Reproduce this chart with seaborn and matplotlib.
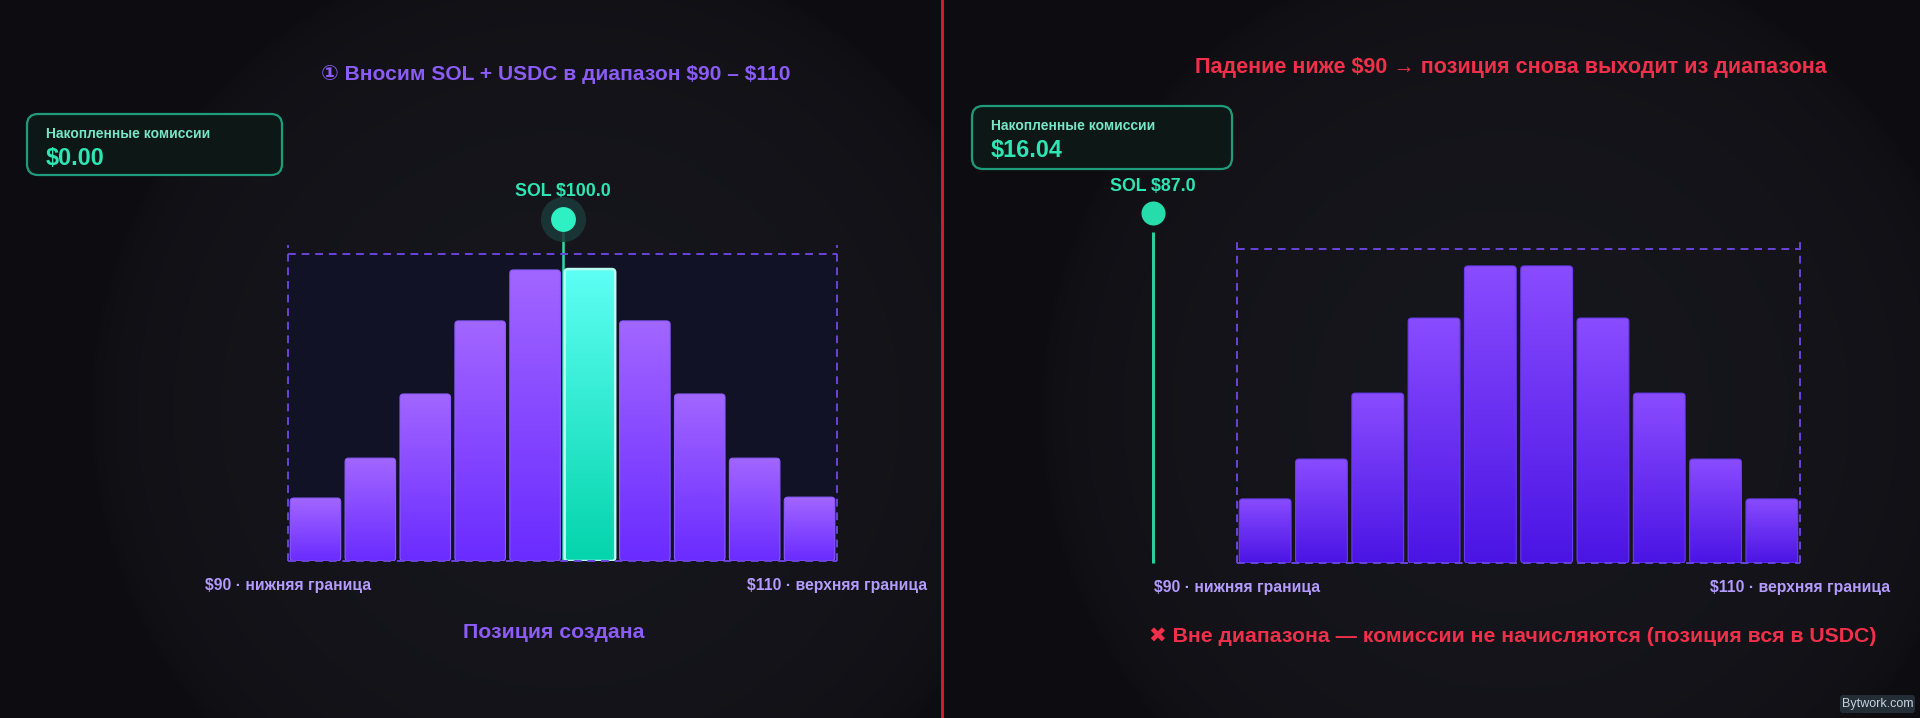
import numpy as np
import pandas as pd
import matplotlib
matplotlib.use("Agg")
import matplotlib.pyplot as plt
import seaborn as sns
from matplotlib.patches import FancyBboxPatch
from matplotlib.lines import Line2D
from matplotlib.colors import LinearSegmentedColormap
from matplotlib.transforms import IdentityTransform

# ---------------- data ----------------
bin_centers = [91, 93, 95, 97, 99, 101, 103, 105, 107, 109]
liquidity_left = [20.5, 33.5, 54.4, 78.2, 94.8, 95.1, 78.2, 54.4, 33.5, 20.8]
liquidity_right = [20.4, 33.1, 54.1, 78.0, 94.6, 94.6, 78.0, 54.1, 33.1, 20.4]
range_low, range_high = 90, 110
price_left, price_right = 100.0, 87.0
active_bin_left = 101
fees_left, fees_right = "$0.00", "$16.04"
fee_label = "Накопленные комиссии"
low_label = "$90 · нижняя граница"
high_label = "$110 · верхняя граница"
title_left = "① Вносим SOL + USDC в диапазон $90 – $110"
title_right = "Падение ниже $90 → позиция снова выходит из диапазона"
caption_left = "Позиция создана"
caption_right = "✖ Вне диапазона — комиссии не начисляются (позиция вся в USDC)"
watermark = "Bytwork.com"

# ---------------- style ----------------
W, H = 1920, 718
sns.set_theme(style="dark")
FONTS = ['Liberation Sans', 'DejaVu Sans', 'Noto Sans CJK SC']
plt.rcParams['font.family'] = FONTS
plt.rcParams['text.parse_math'] = False

BG = '#0e0e12'
PURPLE_TXT = '#8b5cf6'
LAV = '#b49cff'
RED = '#f0304a'
TEAL = '#2ee6b4'
DASH = '#6a44dc'

fig = plt.figure(figsize=(W / 100, H / 100), dpi=100, facecolor=BG)

# background glow
bg = fig.add_axes([0, 0, 1, 1], zorder=-10)
bg.axis('off')
yy, xx = np.mgrid[0:H, 0:W]
base = np.array([13, 13, 17]) / 255
glow = np.array([23, 23, 30]) / 255
img = np.ones((H, W, 3)) * base
for cx, cy, R, xmin, xmax in [(560, 410, 470, 0, 942), (1510, 410, 470, 942, W)]:
    d = np.hypot(xx - cx, yy - cy) / R
    t = np.clip(1 - d, 0, 1) ** 0.4
    t[:, :xmin] = 0
    t[:, xmax:] = 0
    img = img + (glow - base) * t[..., None]
bg.imshow(img, extent=[0, W, H, 0], aspect='auto', interpolation='bilinear')
bg.set_xlim(0, W)
bg.set_ylim(H, 0)

# divider
fig.add_artist(Line2D([942 / W, 942 / W], [0, 1], transform=fig.transFigure,
                      color='#cc1f1f', lw=2.2))


def px_axes(x0, x1, ytop, ybot):
    return fig.add_axes([x0 / W, 1 - ybot / H, (x1 - x0) / W, (ybot - ytop) / H])


def paint_bars(ax, top_c, bot_c, edge_c, special=None, special_cols=None):
    fig.canvas.draw()
    bbox = ax.get_window_extent()
    pxx = bbox.width / (range_high - range_low)
    pxy = bbox.height / 100.0
    r = 3.5 / pxx
    bars = list(ax.patches)
    for bar in bars:
        x0, w, h = bar.get_x(), bar.get_width(), bar.get_height()
        xc = x0 + w / 2
        bar.set_visible(False)
        if special is not None and abs(xc - special) < 0.5:
            tc, bc, ec, lw = special_cols
        else:
            tc, bc, ec, lw = top_c, bot_c, edge_c, 0.8
        patch = FancyBboxPatch((x0, 0), w, h,
                               boxstyle=f"round,pad=0,rounding_size={r}",
                               mutation_aspect=pxx / pxy,
                               fc='none', ec=ec, lw=lw, zorder=4)
        ax.add_patch(patch)
        cm = LinearSegmentedColormap.from_list('g', [bc, tc])
        grad = np.linspace(0, 1, 256).reshape(-1, 1)
        im = ax.imshow(grad, extent=[x0, x0 + w, 0, h], origin='lower', cmap=cm,
                       aspect='auto', zorder=3, interpolation='bicubic')
        im.set_clip_path(patch)
    ax.set_xlim(range_low, range_high)
    ax.set_ylim(0, 100)


def setup_panel(ax, heights, face):
    sns.barplot(x=bin_centers, y=heights, native_scale=True, width=0.92,
                color='#7c4dff', errorbar=None, ax=ax, saturation=1)
    ax.set_xlim(range_low, range_high)
    ax.set_ylim(0, 100)
    ax.set_facecolor(face)
    for s in ax.spines.values():
        s.set_visible(False)
    ax.set_xticks([])
    ax.set_yticks([])
    ax.set_xlabel('')
    ax.set_ylabel('')
    ax.grid(False)
    ax.vlines([range_low, range_high], 0, 102.8, colors=DASH, lw=1.4,
              linestyles=(0, (4, 3)), clip_on=False, zorder=5)
    ax.hlines([0, 100], range_low, range_high, colors=DASH, lw=1.4,
              linestyles=(0, (4, 3)), clip_on=False, zorder=5)
    ax.text(range_low, -7.9, low_label, ha='center', va='center', color=LAV,
            fontsize=11.3, fontweight='bold', clip_on=False)
    ax.text(range_high, -7.9, high_label, ha='center', va='center', color=LAV,
            fontsize=11.3, fontweight='bold', clip_on=False)


# ---------------- left panel ----------------
axL = px_axes(288, 837, 254, 561)
setup_panel(axL, liquidity_left, '#121226')
axL.plot([price_left, price_left], [0, 111.4], color='#2fd9aa', lw=1.8, zorder=2,
         clip_on=False, solid_capstyle='butt')
axL.scatter([price_left], [111.4], s=1050, color='#1c3a3a', alpha=0.85, zorder=6,
            clip_on=False, linewidths=0)
axL.scatter([price_left], [111.4], s=320, color='#2ff0c2', zorder=7, clip_on=False,
            linewidths=0)
axL.text(price_left, 120.5, f"SOL ${price_left:.1f}", ha='center', va='center',
         color=TEAL, fontsize=12.8, fontweight='bold', clip_on=False)

# ---------------- right panel ----------------
axR = px_axes(1237, 1800, 249, 563)
setup_panel(axR, liquidity_right, 'none')
axR.plot([price_right, price_right], [0, 105.3], color='#2bcf9f', lw=2.2, zorder=2,
         clip_on=False, solid_capstyle='butt')
axR.scatter([price_right], [111.5], s=300, color='#25dcaa', zorder=7, clip_on=False,
            linewidths=0)
axR.text(price_right, 119.8, f"SOL ${price_right:.1f}", ha='center', va='center',
         color=TEAL, fontsize=12.8, fontweight='bold', clip_on=False)

paint_bars(axL, '#a266ff', '#6a2bff', '#8a5cff', special=active_bin_left,
           special_cols=('#5efff4', '#03d4ab', '#b6fff0', 1.8))
paint_bars(axR, '#8a4cff', '#4a14e4', '#6a3cf0')

# ---------------- titles / captions ----------------
fig.text(556 / W, 1 - 75 / H, title_left, ha='center', va='center', color=PURPLE_TXT,
         fontsize=15.1, fontweight='bold')
fig.text(1511 / W, 1 - 67 / H, title_right, ha='center', va='center', color=RED,
         fontsize=15.5, fontweight='bold')
fig.text(554 / W, 1 - 633 / H, caption_left, ha='center', va='center', color=PURPLE_TXT,
         fontsize=15.3, fontweight='bold')
fig.text(1513 / W, 1 - 637 / H, caption_right, ha='center', va='center', color=RED,
         fontsize=15.3, fontweight='bold')


def fee_box(x0, y0, x1, y1, value):
    p = FancyBboxPatch((x0, H - y1), x1 - x0, y1 - y0,
                       boxstyle="round,pad=0,rounding_size=11",
                       transform=IdentityTransform(), fc='#0c1716', ec='#1f9c7c', lw=1.6)
    fig.add_artist(p)
    fig.text((x0 + 19) / W, 1 - (y0 + 24) / H, fee_label, ha='left', va='baseline',
             color='#78e6c6', fontsize=10, fontweight='bold')
    fig.text((x0 + 19) / W, 1 - (y0 + 51) / H, value, ha='left', va='baseline',
             color=TEAL, fontsize=16.8, fontweight='bold')


fee_box(27, 114, 282, 175, fees_left)
fee_box(972, 106, 1232, 169, fees_right)

# watermark
wm = FancyBboxPatch((1840, H - 713), 75, 18, boxstyle="round,pad=0,rounding_size=3",
                    transform=IdentityTransform(), fc='#242c36', ec='none')
fig.add_artist(wm)
fig.text(1877.5 / W, 1 - 704 / H, watermark, ha='center', va='center', color='#c5d3df',
         fontsize=9)

fig.savefig('out.png', dpi=100, facecolor=BG)
